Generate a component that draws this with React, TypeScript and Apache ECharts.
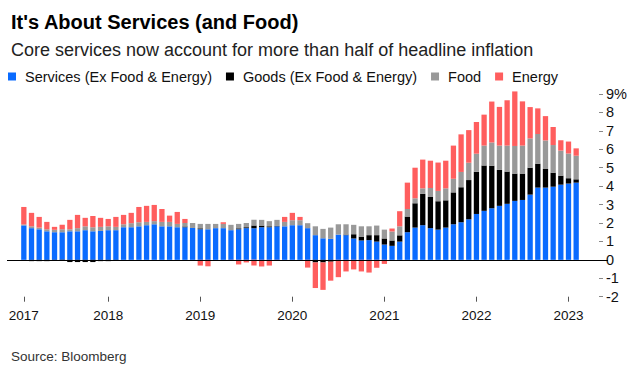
import React, { useEffect, useRef } from 'react';
import * as echarts from 'echarts';

// Monthly categories: Feb 2017 .. Feb 2023
const startYear = 2017;
const startMonth = 2;
const monthCount = 73;
const months: string[] = [];
for (let k = 0; k < monthCount; k++) {
  const m = startMonth - 1 + k;
  const y = startYear + Math.floor(m / 12);
  const mm = (m % 12) + 1;
  months.push(`${y}-${mm < 10 ? '0' + mm : mm}`);
}

const seriesNames = ['Services (Ex Food & Energy)', 'Goods (Ex Food & Energy)', 'Food', 'Energy'];

const services = [
  1.87, 1.72, 1.66, 1.55, 1.50, 1.50, 1.55, 1.55, 1.61, 1.55,
  1.57, 1.61, 1.61, 1.77, 1.77, 1.82, 1.88, 1.93, 1.82, 1.82,
  1.77, 1.77, 1.73, 1.66, 1.66, 1.72, 1.72, 1.61, 1.66, 1.72,
  1.72, 1.77, 1.77, 1.82, 1.82, 1.88, 1.88, 1.72, 1.34, 1.17,
  1.14, 1.37, 1.34, 1.16, 1.05, 1.07, 0.99, 0.83, 0.76, 0.99,
  1.50, 1.75, 1.88, 1.72, 1.64, 1.75, 1.93, 2.04, 2.20, 2.49,
  2.66, 2.80, 2.93, 3.04, 3.20, 3.25, 3.54, 3.92, 3.92, 3.97,
  4.08, 4.14, 4.19,
];

const goods = [
  0, -0.07, -0.07, -0.07, -0.05, -0.05, -0.12, -0.12, -0.12, -0.12,
  -0.07, -0.07, -0.02, 0, 0, 0, 0, 0, 0, 0,
  0, 0.04, 0, 0.05, 0, 0, 0, 0, 0.05, 0.05,
  0.15, 0.09, 0.05, 0.02, 0, 0, 0, 0, -0.14, -0.14,
  -0.10, 0, 0.03, 0.23, 0.21, 0.27, 0.35, 0.33, 0.29, 0.34,
  0.85, 1.32, 1.70, 1.69, 1.54, 1.48, 1.73, 1.90, 2.13, 2.29,
  2.46, 2.31, 1.95, 1.75, 1.48, 1.43, 1.46, 1.30, 1.01, 0.76,
  0.49, 0.29, 0.18,
];

const food = [
  0.05, 0.10, 0.09, 0.11, 0.13, 0.16, 0.11, 0.17, 0.21, 0.22,
  0.22, 0.21, 0.18, 0.16, 0.22, 0.22, 0.18, 0.17, 0.24, 0.24,
  0.18, 0.19, 0.27, 0.24, 0.29, 0.23, 0.23, 0.29, 0.24, 0.23,
  0.30, 0.31, 0.28, 0.33, 0.24, 0.27, 0.27, 0.27, 0.48, 0.51,
  0.61, 0.56, 0.56, 0.51, 0.56, 0.48, 0.52, 0.48, 0.49, 0.49,
  0.41, 0.27, 0.30, 0.49, 0.56, 0.65, 0.74, 0.83, 0.94, 0.98,
  1.08, 1.26, 1.32, 1.41, 1.50, 1.52, 1.59, 1.61, 1.55, 1.50,
  1.36, 1.34, 1.28,
];

const energy = [
  0.95, 0.73, 0.58, 0.40, 0.16, 0.24, 0.51, 0.72, 0.46, 0.61,
  0.49, 0.40, 0.54, 0.51, 0.56, 0.83, 0.87, 0.88, 0.70, 0.34,
  0.65, 0.22, 0, -0.31, -0.35, 0, 0.09, -0.02, -0.25, -0.14,
  -0.31, -0.36, -0.31, -0.04, 0.27, 0.40, 0.18, -0.42, -1.39, -1.49,
  -1.03, -0.94, -0.63, -0.52, -0.63, -0.69, -0.43, -0.22, 0.16, 0.82,
  1.43, 1.66, 1.56, 1.48, 1.54, 1.50, 1.80, 2.04, 1.77, 1.72,
  1.68, 2.22, 2.10, 2.46, 2.96, 2.40, 1.70, 1.39, 1.32, 0.98,
  0.56, 0.65, 0.40,
];

const yearTickIndex = [0, 11, 23, 35, 47, 59, 71];
const yearTickLabels = ['2017', '2018', '2019', '2020', '2021', '2022', '2023'];

const colors = ['#0a6bff', '#000000', '#999999', '#ff5e5e'];
const font = '"Liberation Sans", Arial, sans-serif';

export default function App() {
  const ref = useRef<HTMLDivElement>(null);

  useEffect(() => {
    if (!ref.current) return;
    const chart = echarts.init(ref.current, null, { renderer: 'svg' });
    const valueSets = [services, goods, food, energy];
    const option: any = {
      animation: false,
      backgroundColor: '#ffffff',
      textStyle: { fontFamily: font },
      title: [
        {
          text: "It's About Services (and Food)",
          left: 6,
          top: 7,
          textStyle: { fontSize: 20, fontWeight: 'bold', color: '#000', fontFamily: font },
        },
        {
          text: 'Core services now account for more than half of headline inflation',
          left: 6,
          top: 36,
          textStyle: { fontSize: 18, fontWeight: 'normal', color: '#222', fontFamily: font },
        },
        {
          text: 'Source: Bloomberg',
          left: 6,
          top: 344,
          textStyle: { fontSize: 13.5, fontWeight: 'normal', color: '#333', fontFamily: font },
        },
      ],
      legend: {
        left: 3,
        top: 64,
        icon: 'rect',
        itemWidth: 8,
        itemHeight: 8,
        itemGap: 14,
        selectedMode: false,
        data: seriesNames,
        textStyle: { fontSize: 14.5, color: '#111', fontFamily: font, padding: [0, 0, 0, 4] },
      },
      grid: { left: 20, right: 60, top: 94, bottom: 85.3, containLabel: false },
      xAxis: {
        type: 'category',
        data: months,
        position: 'bottom',
        axisLine: { show: false, onZero: false },
        axisTick: {
          show: true,
          alignWithLabel: true,
          length: 5,
          interval: (i: number) => yearTickIndex.includes(i),
          lineStyle: { color: '#555' },
        },
        axisLabel: {
          interval: (i: number) => yearTickIndex.includes(i),
          formatter: (_v: string, i: number) => {
            const p = yearTickIndex.indexOf(i);
            return p >= 0 ? yearTickLabels[p] : '';
          },
          margin: 12,
          fontSize: 13.5,
          color: '#111',
          fontFamily: font,
        },
        splitLine: { show: false },
      },
      yAxis: {
        type: 'value',
        position: 'right',
        min: -2,
        max: 9,
        interval: 1,
        offset: 19,
        axisLine: { show: false },
        axisTick: { show: true, length: 4, lineStyle: { color: '#888' } },
        axisLabel: {
          margin: 7,
          fontSize: 14.5,
          color: '#111',
          fontFamily: font,
          formatter: (v: number) => (v === 9 ? '9%' : String(v)),
        },
        splitLine: { show: false },
      },
      series: seriesNames.map((name, k) => {
        const s: any = {
          name,
          type: 'bar',
          stack: 'total',
          data: valueSets[k],
          barWidth: 5.3,
          clip: false,
          itemStyle: { color: colors[k] },
          emphasis: { disabled: true },
        };
        if (k === 0) {
          s.markLine = {
            silent: true,
            symbol: ['none', 'none'],
            label: { show: false },
            z: 10,
            lineStyle: { color: '#000', width: 1.2, type: 'solid' },
            data: [[{ yAxis: 0, x: 7 }, { yAxis: 0, x: 608 }]],
          };
        }
        return s;
      }),
    };
    chart.setOption(option);
    return () => chart.dispose();
  }, []);

  return (
    <div
      ref={ref}
      style={{ position: 'fixed', left: 0, top: 0, width: 640, height: 382, background: '#fff' }}
    />
  );
}
